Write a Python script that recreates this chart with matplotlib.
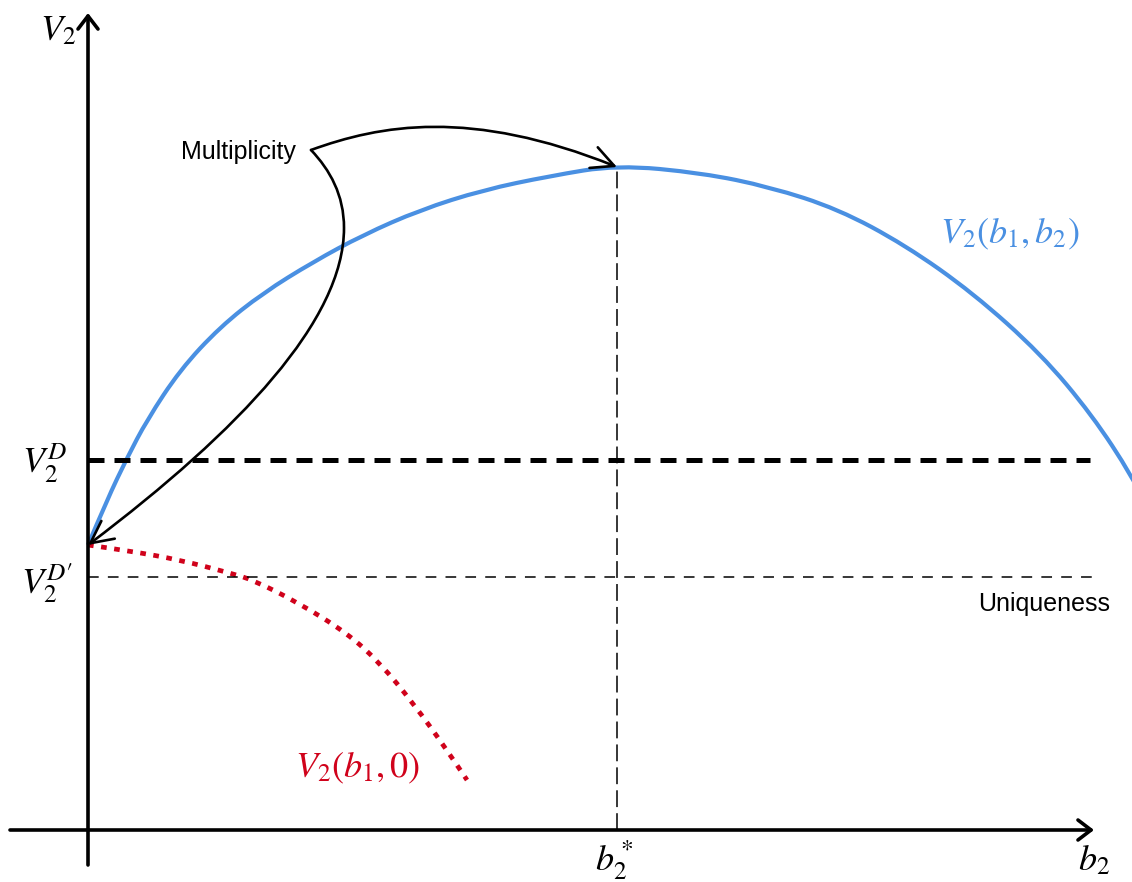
import numpy as np
import matplotlib
matplotlib.use("Agg")
import matplotlib.pyplot as plt
from matplotlib.patches import FancyArrowPatch, PathPatch
from matplotlib.path import Path

plt.rcParams['mathtext.fontset'] = 'stix'
plt.rcParams['font.family'] = ['Liberation Sans', 'DejaVu Sans']

############################## Curve data ######################################
# value of player 2 as a function of b2 (b1 fixed)
b2_vals = [0.00, 0.19, 0.39, 0.59, 0.92, 1.32, 1.75, 2.25, 2.75, 3.32, 3.95,
           4.62, 5.29, 6.14, 6.82, 7.50, 8.17, 8.85, 9.53, 10.04, 10.44, 10.62]
v2_vals = [2.85, 3.30, 3.72, 4.10, 4.60, 5.03, 5.37, 5.68, 5.95, 6.20, 6.40,
           6.54, 6.65, 6.57, 6.43, 6.21, 5.85, 5.37, 4.76, 4.15, 3.54, 3.20]

# value with b2 = 0 (dotted branch)
b2_zero_x = [0.00, 0.42, 0.92, 1.42, 1.65, 2.09, 2.59, 2.92, 3.25, 3.59, 3.79]
v2_zero_y = [2.85, 2.79, 2.70, 2.57, 2.50, 2.28, 1.97, 1.67, 1.27, 0.80, 0.50]

v2_D = 3.70        # V2^D
v2_D_prime = 2.53  # V2^D'
b2_star = 5.29
v2_peak = 6.63
line_end = 10.02
thin_end = 10.12

# label anchor for the "Multiplicity" arrows and bezier control points
mult_anchor = (2.23, 6.80)
upper_ctrl = [(2.92, 7.05), (3.82, 7.22), (b2_star, v2_peak)]
lower_ctrl = [(2.42, 6.60), (2.56, 6.35), (2.56, 6.02),
              (2.56, 5.10), (1.52, 4.00), (0.00, 2.85)]

blue = '#4A90E2'
red = '#D0021B'


def smooth_path(xs, ys):
    # quadratic b-spline through the midpoints, read points act as controls
    pts = list(zip(xs, ys))
    verts = [pts[0]]
    codes = [Path.MOVETO]
    for i in range(1, len(pts) - 1):
        if i < len(pts) - 2:
            end = ((pts[i][0] + pts[i + 1][0]) / 2, (pts[i][1] + pts[i + 1][1]) / 2)
        else:
            end = pts[i + 1]
        verts += [pts[i], end]
        codes += [Path.CURVE3, Path.CURVE3]
    return Path(verts, codes)


############################## Figure ##########################################
fig = plt.figure(figsize=(11.32, 8.82), dpi=100)
ax = fig.add_axes([0, 0, 1, 1])
ax.set_xlim(-0.88, 10.44)
ax.set_ylim(-0.52, 8.30)
ax.axis('off')

# axes with arrow heads
axis_style = '->,head_length=0.47,head_width=0.36'
ax.annotate('', xy=(10.06, 0), xytext=(-0.78, 0),
            arrowprops=dict(arrowstyle=axis_style, lw=2.6, color='black',
                            mutation_scale=20, shrinkA=0, shrinkB=0))
ax.annotate('', xy=(0, 8.17), xytext=(0, -0.35),
            arrowprops=dict(arrowstyle=axis_style, lw=2.6, color='black',
                            mutation_scale=20, shrinkA=0, shrinkB=0))

# reference levels
ax.plot([0, line_end], [v2_D, v2_D], color='black', lw=3.6,
        linestyle=(0, (3.2, 2.0)))
ax.plot([0, thin_end], [v2_D_prime, v2_D_prime], color='black', lw=1.1,
        linestyle=(0, (7, 6)))
ax.plot([b2_star, b2_star], [0, v2_peak], color='black', lw=1.1,
        linestyle=(0, (11, 4)))

# value curves
ax.add_patch(PathPatch(smooth_path(b2_vals, v2_vals), fill=False,
                       edgecolor=blue, lw=3.0))
ax.add_patch(PathPatch(smooth_path(b2_zero_x, v2_zero_y), fill=False,
                       edgecolor=red, lw=3.4, linestyle=(0, (1.2, 1.6))))

# multiplicity arrows
head = '->,head_length=0.8,head_width=0.4'
up_path = Path([mult_anchor] + upper_ctrl,
               [Path.MOVETO, Path.CURVE4, Path.CURVE4, Path.CURVE4])
low_path = Path([mult_anchor] + lower_ctrl,
                [Path.MOVETO] + [Path.CURVE4] * 6)
for p in (up_path, low_path):
    ax.add_patch(FancyArrowPatch(path=p, arrowstyle=head, lw=1.9,
                                 color='black', mutation_scale=20,
                                 shrinkA=0, shrinkB=0))

############################## Labels ##########################################
mfs = 26
ax.text(-0.30, 7.99, r'$V_2$', fontsize=mfs, ha='center', va='center')
ax.text(-0.43, 3.67, r'$V_2^D$', fontsize=mfs, ha='center', va='center')
ax.text(-0.41, 2.47, r"$V_2^{D\prime}$", fontsize=mfs, ha='center', va='center')
ax.text(5.26, -0.30, r'$b_2^*$', fontsize=mfs, ha='center', va='center')
ax.text(10.06, -0.31, r'$b_2$', fontsize=mfs, ha='center', va='center')
ax.text(9.22, 5.96, r'$V_2(b_1, b_2)$', fontsize=mfs, color=blue,
        ha='center', va='center')
ax.text(2.70, 0.62, r'$V_2(b_1, 0)$', fontsize=mfs, color=red,
        ha='center', va='center')
ax.text(2.08, 6.71, 'Multiplicity', fontsize=18, ha='right', va='baseline')
ax.text(8.90, 2.19, 'Uniqueness', fontsize=18, ha='left', va='baseline')

plt.savefig('out.png', dpi=100)
